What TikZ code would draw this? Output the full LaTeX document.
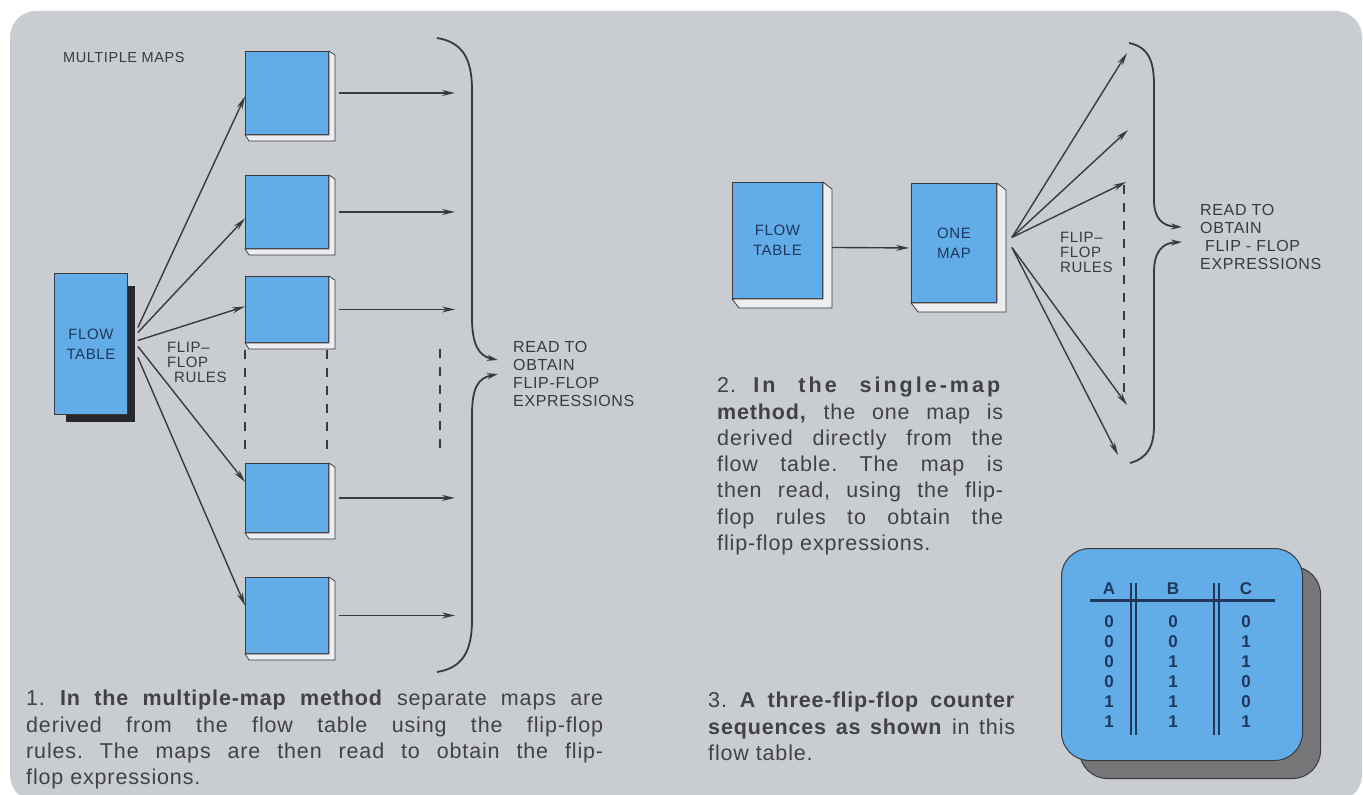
\documentclass[tikz,border=0pt]{standalone}
\usepackage{fontspec}
\setmainfont{Liberation Sans}
\newfontfamily\letterfont{Liberation Sans}[LetterSpace=4]
\newfontfamily\capfont{Liberation Sans}[LetterSpace=4]
\usetikzlibrary{arrows.meta}
\definecolor{panel}{RGB}{201,204,208}
\definecolor{mapblue}{RGB}{98,172,232}
\definecolor{inkgrey}{RGB}{58,58,62}
\definecolor{textgrey}{RGB}{66,66,70}
\definecolor{navy}{RGB}{32,55,92}
\definecolor{slabwhite}{RGB}{236,238,240}
\definecolor{shadowdark}{RGB}{40,40,42}
\definecolor{cardshadow}{RGB}{118,118,120}
\frenchspacing

\begin{document}
\begin{tikzpicture}[x=1pt, y=-1pt, every node/.style={inner sep=0pt},
	mapbox/.style={draw=inkgrey, fill=mapblue, line width=0.9pt, anchor=north west},
	slab/.style={fill=slabwhite, draw=inkgrey, line width=0.8pt},
	boxlabel/.style={font=\letterfont\fontsize{15}{20}\selectfont, text=navy, align=center},
	lettering/.style={font=\letterfont\fontsize{16}{18}\selectfont, text=inkgrey, align=left, anchor=north west},
	arr/.style={draw=inkgrey, line width=1.4pt, -{Stealth[length=13pt,width=6pt]}},
	brace/.style={draw=inkgrey, line width=1.8pt, -{Stealth[length=11pt,width=6pt]}},
	dashline/.style={draw=inkgrey, line width=1.4pt, dash pattern=on 9pt off 9pt},
	caption/.style={font=\capfont\fontsize{21.5}{26.3}\selectfont, text=textgrey, align=justify, anchor=north west},
	cardbox/.style={draw=inkgrey, rounded corners=28pt, anchor=north west, line width=1pt, minimum width=241pt, minimum height=212pt},
	digit/.style={font=\bfseries\fontsize{17}{17}\selectfont, text=navy}]
	\useasboundingbox[fill=white] (0,0) rectangle (1363,795);
	\fill[panel, rounded corners=26pt] (10,11) rectangle (1362,801);

	% multiple maps
	\node[lettering, anchor=west, font=\letterfont\fontsize{14.5}{15}\selectfont] (mmlbl) at (63,58) {MULTIPLE MAPS};
	\node[mapbox, minimum width=73pt, minimum height=141pt, boxlabel] (ft1) at (54,273) {FLOW\\TABLE};
	\fill[shadowdark] ([shift={(0,13)}]ft1.north east) -- ([shift={(7,13)}]ft1.north east) -- ([shift={(7,7)}]ft1.south east)
		-- ([shift={(12,7)}]ft1.south west) -- ([shift={(12,0)}]ft1.south west) -- (ft1.south east) -- cycle;
	\foreach \n/\yy/\hh in {1/51/83, 2/175/73, 3/276/66, 4/463/69, 5/577/76}
		\node[mapbox, minimum width=83pt, minimum height=\hh pt] (m\n) at (245,\yy) {};
	\coordinate (rx) at (455,0);
	\foreach \n in {1,...,5}
		\draw[arr] ([shift={(10,0)}]m\n.east) -- (m\n.east -| rx);
	\foreach \n/\st/\en in {1/-16.5/3.5, 2/-11.5/6.5, 3/-3.5/-3, 4/2.5/-16, 5/13.5/-10}
		\draw[arr] ([shift={(10,\st)}]ft1.east) -- ([shift={(0,\en)}]m\n.west);
	\draw[dashline] ([shift={(0,7)}]m3.south west) -- ([shift={(0,-10)}]m4.north west);
	\draw[dashline] ([shift={(-2,7)}]m3.south east) -- ([shift={(-2,-10)}]m4.north east);
	\coordinate (dtop) at (440,349);
	\coordinate (dbot) at (440,453);
	\draw[dashline] (dtop) -- (dbot);
	\node[lettering, font=\letterfont\fontsize{15}{15}\selectfont] (rules1) at (167,342) {FLIP–\\FLOP\\\hspace*{7pt}RULES};
	\draw[brace] (437,38) .. controls (462,42) and (472,58) .. (472,90) -- (472,318) .. controls (472,343) and (478,356) .. (498,360);
	\draw[brace] (437,672) .. controls (462,668) and (472,652) .. (472,620) -- (472,415) .. controls (472,388) and (478,378) .. (498,374);
	\node[lettering] (read1) at (513,341) {READ TO\\OBTAIN\\FLIP-FLOP\\EXPRESSIONS};

	% single map
	\node[mapbox, minimum width=90pt, minimum height=116pt, boxlabel] (ft2) at (732,182) {FLOW\\TABLE};
	\node[mapbox, minimum width=85pt, minimum height=119pt, boxlabel] (om) at (911,183) {ONE\\MAP};
	\draw[arr] ([shift={(7,7)}]ft2.east) -- ([shift={(-2,5)}]om.west);
	\foreach \n/\xx/\yy in {1/1127/53, 2/1128/130, 3/1126/182, 4/1127/405, 5/1118/455}
		\coordinate (t\n) at (\xx,\yy);
	\foreach \n/\st in {1/-5.5, 2/-5.5, 3/-5.5, 4/4.5, 5/4.5}
		\draw[arr] ([shift={(15,\st)}]om.east) -- (t\n);
	\coordinate (dr1) at (1124,185);
	\coordinate (dr2) at (1124,392);
	\draw[dashline] (dr1) -- (dr2);
	\node[lettering, font=\letterfont\fontsize{15}{15}\selectfont] (rules2) at (1060,232) {FLIP–\\FLOP\\RULES};
	\draw[brace] (1129,43) .. controls (1148,47) and (1154,60) .. (1154,85) -- (1154,200) .. controls (1154,218) and (1162,226) .. (1182,227);
	\draw[brace] (1130,463) .. controls (1148,458) and (1154,446) .. (1154,425) -- (1154,272) .. controls (1154,252) and (1162,243) .. (1182,242);
	\node[lettering] (read2) at (1200,204) {READ TO\\OBTAIN\\\hspace*{5pt}FLIP - FLOP\\EXPRESSIONS};

	\foreach \b/\off in {m1/6, m2/6, m3/6, m4/6, m5/6, ft2/9, om/9}
		\filldraw[slab] (\b.north east) -- ([shift={(\off,\off-2)}]\b.north east) -- ([shift={(\off,\off)}]\b.south east)
			-- ([shift={(\off-2,\off)}]\b.south west) -- (\b.south west) -- (\b.south east) -- cycle;

	% counter table
	\node[cardbox, fill=cardshadow] (cardsh) at (1079,566) {};
	\node[cardbox, fill=mapblue] (card) at (1061,548) {};
	\foreach \cl/\xx in {A/1109, B/1173, C/1246}
		\node[digit] (h\cl) at (\xx,589) {\cl};
	\draw[navy, line width=3pt] (1090,600) -- (1275,600);
	\foreach \xx in {1131,1136,1214,1219}
		\draw[navy, line width=1.4pt] (\xx,583) -- (\xx,735);
	\foreach \va/\vb/\vc [count=\row] in {0/0/0, 0/0/1, 0/1/1, 0/1/0, 1/1/0, 1/1/1}{
		\node[digit] (a\row) at (1109,602+20*\row) {\va};
		\node[digit] (b\row) at (1173,602+20*\row) {\vb};
		\node[digit] (c\row) at (1246,602+20*\row) {\vc};
	}

	% captions
	\node[caption, text width=577pt] (cap1) at (26,690) {1. \textbf{In the multiple-map method} separate maps are\linebreak derived from the flow table using the flip-flop\linebreak rules. The maps are then read to obtain the flip-\linebreak flop expressions.};
	\node[caption, text width=286pt] (cap2) at (717,377) {2. {\bfseries\addfontfeature{LetterSpace=14}In the single-map}\linebreak \textbf{method,} the one map is\linebreak derived directly from the\linebreak flow table. The map is\linebreak then read, using the flip-\linebreak flop rules to obtain the\linebreak flip-flop expressions.};
	\node[caption, text width=307pt] (cap3) at (708,692) {3. \textbf{A three-flip-flop counter}\linebreak \textbf{sequences as shown} in this\linebreak flow table.};
\end{tikzpicture}
\end{document}
